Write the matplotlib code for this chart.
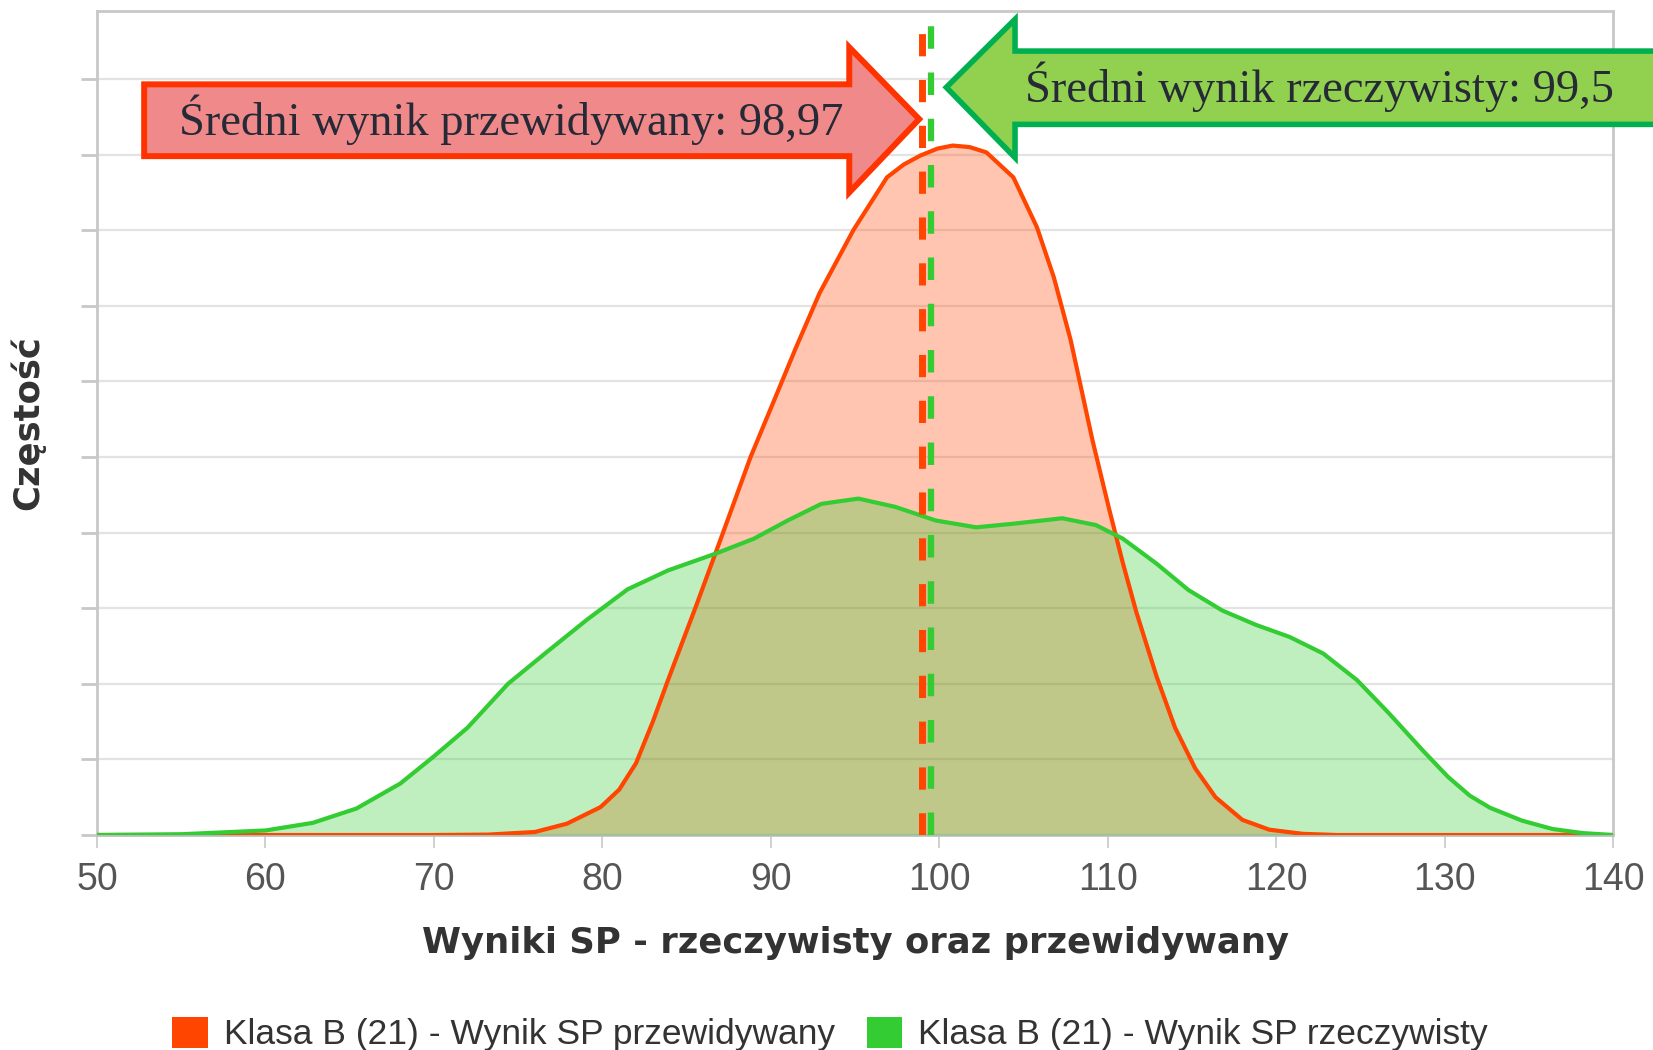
import matplotlib
matplotlib.use("Agg")
import matplotlib.pyplot as plt
from matplotlib.patches import Polygon, Patch

# Density curves (x = score, y = frequency in grid units)
x_pred = [50, 65, 70, 73.2, 76.0, 77.9, 79.9, 81.0, 82.0, 83.0, 83.9, 85.6, 87.2,
          88.8, 90.2, 91.5, 92.9, 94.9, 96.9, 97.9, 98.9, 99.9, 100.8, 101.8,
          102.8, 104.4, 105.8, 106.8, 107.8, 109.1, 110.1, 110.9, 111.7, 112.9,
          114.0, 115.2, 116.4, 118.0, 119.6, 121.6, 123.6, 130, 140]
y_pred = [0, 0, 0, 0.005, 0.04, 0.15, 0.37, 0.6, 0.95, 1.5, 2.05, 3.05, 4.02,
          5.0, 5.75, 6.45, 7.17, 8.0, 8.7, 8.87, 8.99, 9.08, 9.12, 9.1,
          9.03, 8.7, 8.04, 7.38, 6.55, 5.22, 4.3, 3.6, 2.95, 2.1,
          1.42, 0.88, 0.5, 0.2, 0.07, 0.015, 0, 0, 0]

x_real = [50, 55, 60, 62.8, 65.4, 68.0, 70.0, 72.0, 74.4, 76.7, 79.1, 81.5, 83.9,
          86.7, 89.0, 91.0, 93.0, 95.2, 97.4, 99.8, 102.2, 104.5, 107.3, 109.3,
          110.9, 112.9, 114.8, 116.8, 118.8, 120.8, 122.8, 124.8, 126.7, 128.7,
          130.2, 131.5, 132.7, 134.6, 136.4, 138.2, 140]
y_real = [0, 0.01, 0.06, 0.16, 0.35, 0.68, 1.04, 1.42, 2.0, 2.42, 2.85, 3.25, 3.5,
          3.72, 3.92, 4.16, 4.38, 4.45, 4.34, 4.16, 4.07, 4.12, 4.19, 4.10,
          3.92, 3.59, 3.24, 2.97, 2.78, 2.62, 2.40, 2.05, 1.61, 1.12,
          0.77, 0.52, 0.36, 0.19, 0.08, 0.025, 0]

mean_pred = 98.97
mean_real = 99.5
xticks = list(range(50, 141, 10))
series_names = ["Klasa B (21) - Wynik SP przewidywany",
                "Klasa B (21) - Wynik SP rzeczywisty"]
red = "#FF4500"
green = "#33CC33"

fig = plt.figure(figsize=(16.53, 10.5), dpi=100)
W, H = 1653, 1050
ax = fig.add_axes([97 / W, 1 - 835 / H, (1613 - 97) / W, (835 - 11) / H])

# areas first, outlines on top
ax.fill_between(x_pred, y_pred, color=red, alpha=0.31, lw=0, zorder=2)
ax.fill_between(x_real, y_real, color=green, alpha=0.31, lw=0, zorder=3)
ax.plot(x_pred, y_pred, color=red, lw=3, zorder=4, solid_joinstyle="round")
ax.plot(x_real, y_real, color=green, lw=3, zorder=5, solid_joinstyle="round")

# mean lines
ax.axvline(mean_pred, color=red, lw=5, dashes=(3.2, 3.4), zorder=6)
ax.axvline(mean_real, color=green, lw=4.5, dashes=(3.6, 3.8), zorder=6)

ax.set_xlim(50, 140)
ax.set_ylim(0, 10.9)
ax.set_xticks(xticks)
ax.set_yticks(range(0, 11))
ax.set_yticklabels([])
ax.yaxis.grid(True, color="#E3E3E3", lw=1.6, zorder=0)
ax.set_axisbelow(True)
for s in ax.spines.values():
    s.set_color("#C8C8C8")
    s.set_linewidth(2)
ax.spines["bottom"].set_color("#C0C0C0")
ax.tick_params(axis="x", length=9.5, width=1.2, color="#C8C8C8", pad=10,
               labelsize=27, labelcolor="#555555")
ax.tick_params(axis="y", length=11.5, width=2, color="#C8C8C8")
for lbl in ax.get_xticklabels():
    lbl.set_family("Liberation Sans")

ax.set_xlabel("Wyniki SP - rzeczywisty oraz przewidywany", fontsize=25.5,
              fontweight="bold", color="#333333", labelpad=20, family="DejaVu Sans")
ax.set_ylabel("Częstość", fontsize=25.5, fontweight="bold", color="#333333",
              labelpad=22, family="DejaVu Sans")

# arrow callouts (data coords, drawn outside the plot area)
red_arrow = [(52.8, 9.93), (94.66, 9.93), (94.66, 10.42), (98.81, 9.47),
             (94.66, 8.5), (94.66, 8.98), (52.8, 8.98)]
ax.add_patch(Polygon(red_arrow, closed=True, facecolor="#F08A8A",
                     edgecolor="#FF3300", lw=4.3, joinstyle="miter",
                     clip_on=False, zorder=8))
ax.text(54.87, 9.26, "Średni wynik przewidywany: 98,97", fontsize=33.5,
        family="Liberation Serif", color="#262A36", va="baseline", zorder=9)

green_arrow = [(100.42, 9.89), (104.5, 10.79), (104.5, 10.37), (146, 10.37),
               (146, 9.40), (104.5, 9.40), (104.5, 8.96)]
ax.add_patch(Polygon(green_arrow, closed=True, facecolor="#92D050",
                     edgecolor="#00B050", lw=4, joinstyle="miter",
                     clip_on=False, zorder=8))
ax.text(105.1, 9.70, "Średni wynik rzeczywisty: 99,5", fontsize=33.5,
        family="Liberation Serif", color="#262A36", va="baseline", zorder=9)

handles = [Patch(facecolor=red, edgecolor="none"),
           Patch(facecolor=green, edgecolor="none")]
fig.legend(handles, series_names, loc="center", bbox_to_anchor=(830 / W, 1 - 1034 / H),
           ncol=2, frameon=False, handlelength=1.0, handleheight=1.0,
           handletextpad=0.45, columnspacing=0.9,
           prop={"family": "Liberation Sans", "size": 25.5}, labelcolor="#333333")

fig.savefig("out.png", dpi=100)
